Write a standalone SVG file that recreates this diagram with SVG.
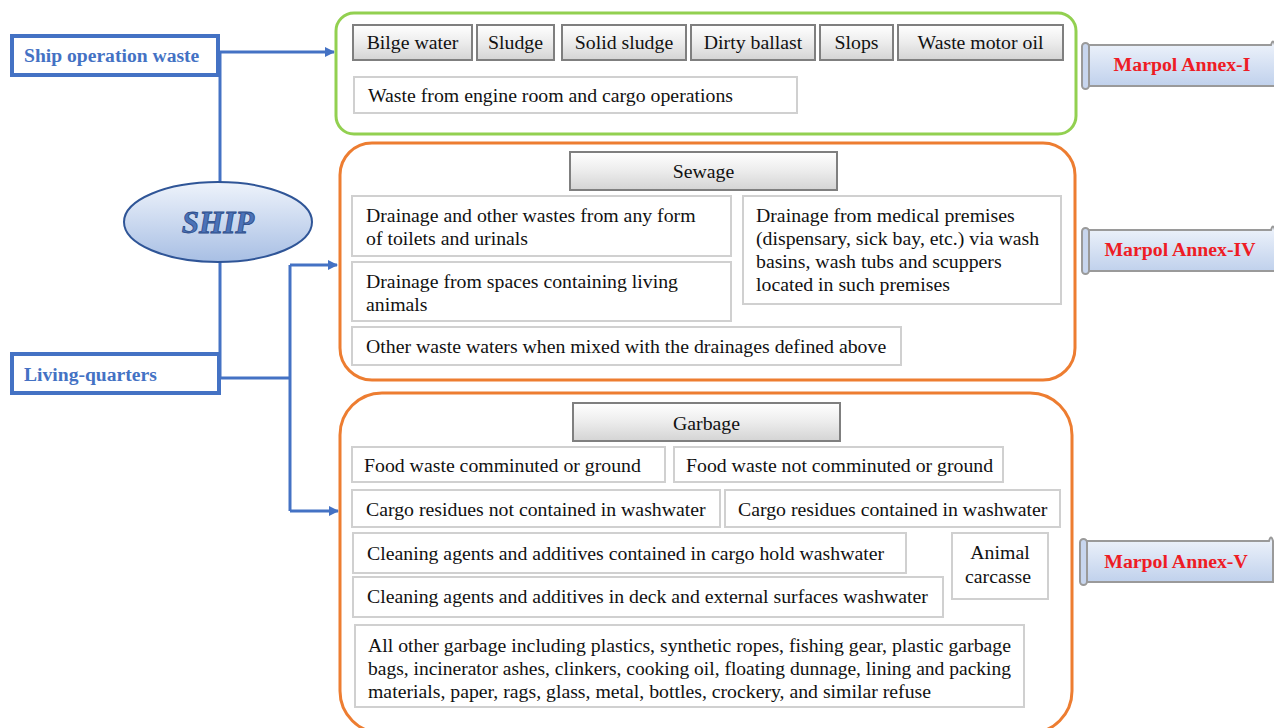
<svg xmlns="http://www.w3.org/2000/svg" width="1274" height="728" viewBox="0 0 1274 728">
<defs>
<linearGradient id="gbtn" x1="0" y1="0" x2="0" y2="1">
<stop offset="0" stop-color="#ffffff"/><stop offset="0.5" stop-color="#ececec"/><stop offset="1" stop-color="#d4d4d4"/>
</linearGradient>
<linearGradient id="gship" x1="0" y1="0" x2="0" y2="1">
<stop offset="0" stop-color="#eef3fb"/><stop offset="1" stop-color="#a8bfe4"/>
</linearGradient>
<linearGradient id="gscroll" x1="0" y1="0" x2="0" y2="1">
<stop offset="0" stop-color="#eef3fb"/><stop offset="1" stop-color="#c0d1ec"/>
</linearGradient>
<marker id="arr" markerWidth="10" markerHeight="10" refX="9" refY="5" orient="auto" markerUnits="userSpaceOnUse">
<path d="M0,0 L10,5 L0,10 z" fill="#4472c4"/>
</marker>
<symbol id="scroll" viewBox="0 0 194 48" overflow="visible">
<path d="M4,3 H189 Q191,-4 193,3 V44 H4 Z" fill="url(#gscroll)" stroke="#9a9a9a" stroke-width="2"/>
<rect x="0" y="1" width="7" height="46" rx="3.5" fill="#c8d6ee" stroke="#9a9a9a" stroke-width="2"/>
</symbol>
</defs>
<style>
.t{font-family:"Liberation Serif","Times New Roman",serif;font-size:19.8px;fill:#111}
.hdr{fill:url(#gbtn);stroke:#7f7f7f;stroke-width:2}
.box{fill:#fff;stroke:#d0d0d0;stroke-width:2}
.blue{fill:#fff;stroke:#4472c4;stroke-width:4}
.bt{font-family:"Liberation Serif","Times New Roman",serif;font-size:19.6px;font-weight:bold;fill:#4472c4}
.mt{font-family:"Liberation Serif","Times New Roman",serif;font-size:19.8px;font-weight:bold;fill:#ee1c25;text-anchor:middle}
.con{fill:none;stroke:#4472c4;stroke-width:3}
.c{text-anchor:middle}
</style>

<g id="connectors">
<path class="con" d="M220,52 H334" marker-end="url(#arr)"/>
<path class="con" d="M220,52 V183"/>
<path class="con" d="M220,262 V378 H290"/>
<path class="con" d="M290,265 V511"/>
<path class="con" d="M290,265 H337" marker-end="url(#arr)"/>
<path class="con" d="M290,511 H338" marker-end="url(#arr)"/>
</g>

<g id="ship-operation-waste">
<rect class="blue" x="12" y="36" width="206" height="39"/>
<text class="bt" x="24" y="62">Ship operation waste</text>
</g>
<g id="living-quarters">
<rect class="blue" x="12" y="354" width="207" height="39"/>
<text class="bt" x="24" y="381">Living-quarters</text>
</g>
<g id="ship">
<ellipse cx="218" cy="222" rx="94" ry="40" fill="url(#gship)" stroke="#2f5597" stroke-width="2"/>
<text x="218" y="233" text-anchor="middle" font-family="Liberation Serif, serif" font-size="31" font-weight="bold" font-style="italic" fill="#4a72b8" stroke="#2a4a86" stroke-width="0.8">SHIP</text>
</g>

<g id="annex-I-group">
<rect x="336" y="13" width="740" height="121" rx="18" fill="#fff" stroke="#92d050" stroke-width="3"/>
<rect class="hdr" x="353" y="25" width="119" height="35"/><text class="t c" x="412.5" y="49">Bilge water</text>
<rect class="hdr" x="477" y="25" width="77" height="35"/><text class="t c" x="515.5" y="49">Sludge</text>
<rect class="hdr" x="562" y="25" width="124" height="35"/><text class="t c" x="624" y="49">Solid sludge</text>
<rect class="hdr" x="691" y="25" width="124" height="35"/><text class="t c" x="753" y="49">Dirty ballast</text>
<rect class="hdr" x="820" y="25" width="73" height="35"/><text class="t c" x="856.5" y="49">Slops</text>
<rect class="hdr" x="898" y="25" width="165" height="35"/><text class="t c" x="980.5" y="49">Waste motor oil</text>
<rect class="box" x="354" y="77" width="443" height="36"/><text class="t" x="368" y="102">Waste from engine room and cargo operations</text>
</g>

<g id="sewage-group">
<rect x="340" y="143" width="735" height="237" rx="32" fill="#fff" stroke="#ed7d31" stroke-width="3"/>
<rect class="hdr" x="570" y="152" width="267" height="38"/><text class="t c" x="703.5" y="178">Sewage</text>
<rect class="box" x="352" y="196" width="379" height="60"/>
<text class="t" x="366" y="222">Drainage and other wastes from any form</text>
<text class="t" x="366" y="245">of toilets and urinals</text>
<rect class="box" x="352" y="262" width="379" height="59"/>
<text class="t" x="366" y="288">Drainage from spaces containing living</text>
<text class="t" x="366" y="311">animals</text>
<rect class="box" x="743" y="196" width="318" height="108"/>
<text class="t" x="756" y="222">Drainage from medical premises</text>
<text class="t" x="756" y="245">(dispensary, sick bay, etc.) via wash</text>
<text class="t" x="756" y="268">basins, wash tubs and scuppers</text>
<text class="t" x="756" y="291">located in such premises</text>
<rect class="box" x="352" y="327" width="549" height="38"/>
<text class="t" x="366" y="353">Other waste waters when mixed with the drainages defined above</text>
</g>

<g id="garbage-group">
<rect x="340" y="393" width="732" height="340" rx="42" fill="#fff" stroke="#ed7d31" stroke-width="3"/>
<rect class="hdr" x="573" y="403" width="267" height="38"/><text class="t c" x="706.5" y="430">Garbage</text>
<rect class="box" x="352" y="447" width="313" height="35"/><text class="t" x="364" y="472">Food waste comminuted or ground</text>
<rect class="box" x="674" y="447" width="329" height="35"/><text class="t" x="686" y="472">Food waste not comminuted or ground</text>
<rect class="box" x="352" y="490" width="368" height="37"/><text class="t" x="366" y="516">Cargo residues not contained in washwater</text>
<rect class="box" x="725" y="490" width="335" height="37"/><text class="t" x="738" y="516">Cargo residues contained in washwater</text>
<rect class="box" x="353" y="533" width="553" height="40"/><text class="t" x="367" y="560">Cleaning agents and additives contained in cargo hold washwater</text>
<rect class="box" x="353" y="577" width="590" height="40"/><text class="t" x="367" y="603">Cleaning agents and additives in deck and external surfaces washwater</text>
<rect class="box" x="952" y="533" width="96" height="66"/>
<text class="t c" x="1000" y="559">Animal</text>
<text class="t c" x="998" y="583">carcasse</text>
<rect class="box" x="355" y="625" width="669" height="82"/>
<text class="t" x="368" y="652" textLength="643" lengthAdjust="spacingAndGlyphs">All other garbage including plastics, synthetic ropes, fishing gear, plastic garbage</text>
<text class="t" x="368" y="675" textLength="643" lengthAdjust="spacingAndGlyphs">bags, incinerator ashes, clinkers, cooking oil, floating dunnage, lining and packing</text>
<text class="t" x="368" y="698" textLength="563" lengthAdjust="spacingAndGlyphs">materials, paper, rags, glass, metal, bottles, crockery, and similar refuse</text>
</g>

<g id="marpol-annex-I">
<use href="#scroll" x="1082" y="42" width="194" height="48"/>
<text class="mt" x="1182" y="71">Marpol Annex-I</text>
</g>
<g id="marpol-annex-IV">
<use href="#scroll" x="1082" y="227" width="194" height="48"/>
<text class="mt" x="1180" y="256">Marpol Annex-IV</text>
</g>
<g id="marpol-annex-V">
<use href="#scroll" x="1080" y="538" width="194" height="48"/>
<text class="mt" x="1176" y="568">Marpol Annex-V</text>
</g>
</svg>
